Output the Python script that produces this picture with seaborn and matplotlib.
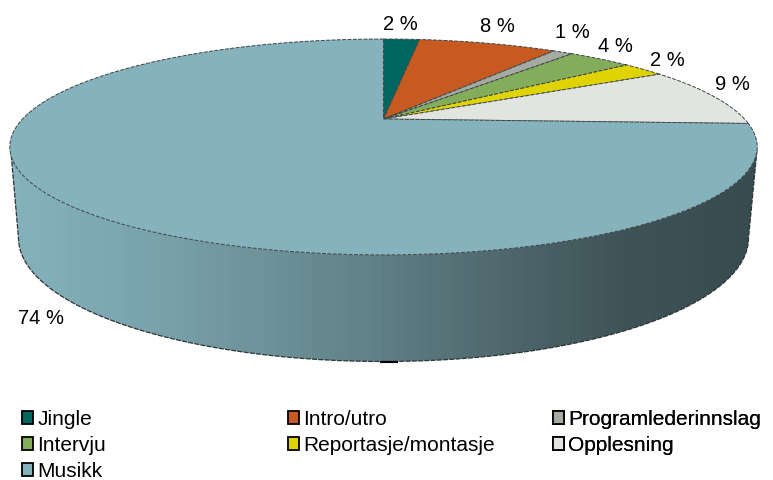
import numpy as np
import matplotlib
matplotlib.use("Agg")
import matplotlib.pyplot as plt
import matplotlib.transforms as mtransforms
from matplotlib.patches import Patch, PathPatch
from matplotlib.path import Path
import seaborn as sns

categories = ["Jingle", "Intro/utro", "Programlederinnslag", "Intervju",
              "Reportasje/montasje", "Opplesning", "Musikk"]
shares = [2.0, 7.7, 1.1, 3.5, 2.3, 9.1, 74.3]
colors = ["#00665f", "#c75a20", "#a6aba2", "#84ad5b", "#e0d400", "#e2e4df", "#85b2bc"]

sns.set_theme(style="white")
plt.rcParams["font.family"] = ["Liberation Sans", "DejaVu Sans"]
FS = 14.5
LEG_FS = 15

fig = plt.figure(figsize=(7.73, 4.80), dpi=100)
ax = fig.add_axes([0, 0, 1, 1])


class Perspective(mtransforms.Transform):
    """Tilts the flat unit pie towards the viewer, giving pixel coordinates."""
    input_dims = output_dims = 2
    has_inverse = False
    K, A, B, X0, Y0 = 0.259, 361.0, 100.7, 383.5, 119.0

    def transform_non_affine(self, pts):
        pts = np.asarray(pts, float)
        w = 1 + self.K * pts[:, 1]
        return np.column_stack([self.X0 + self.A * pts[:, 0] / w,
                                self.Y0 - self.B * pts[:, 1] / w])

    def transform_path_non_affine(self, path):
        t = np.linspace(0, 1, 16)
        dense = [bez(t) for bez, _ in path.iter_bezier()]
        return Path(self.transform_non_affine(np.vstack(dense)))


persp = Perspective()
edge = dict(edgecolor="#3c4446", linewidth=0.7, linestyle=(0, (4, 1.5)))
wedges, _ = ax.pie(shares, colors=colors, startangle=90, counterclock=False,
                   radius=1, wedgeprops=edge)
ax.set_aspect("auto")
ax.set_xlim(0, 773)
ax.set_ylim(480, 0)
ax.axis("off")
for w in wedges:
    w.set_transform(persp + ax.transData)
    w.set_zorder(3)

# side wall of the cylinder
th_top = np.linspace(np.pi * 1.02, np.pi * 1.98, 200)
rim = persp.transform_non_affine(np.column_stack([np.cos(th_top), np.sin(th_top)]))
rim = rim[rim[:, 0] > 10]
th_low = np.linspace(np.pi * 2.0, np.pi, 200)
low = np.column_stack([383.5 + 365 * np.cos(th_low), 238 - 123.5 * np.sin(th_low)])
top_arc = np.array(sorted(rim.tolist()))
outline = np.vstack([[[10.5, 147]], top_arc, [[757, 150]], low, [[10.5, 147]]])
wall_path = Path(outline)

cmap = sns.blend_palette(["#86b2bc", "#7ba5ae", "#6e939a", "#5f7f85", "#4e676c", "#3e5358", "#384b4f"],
                         n_colors=256, as_cmap=True)
img = ax.imshow(np.linspace(0, 1, 64)[None, :], cmap=cmap, aspect="auto",
                extent=(8, 757, 365, 140), zorder=1, interpolation="nearest")
clip = PathPatch(wall_path, transform=ax.transData, facecolor="none", edgecolor="none")
ax.add_patch(clip)
img.set_clip_path(clip)
ax.add_patch(PathPatch(Path(np.vstack([[[757, 150]], low, [[10.5, 147]]])), facecolor="none",
                       edgecolor="#2c3436", linewidth=0.9, linestyle=(0, (4, 1)), zorder=2))
ax.plot([380, 398], [362.3, 362.3], color="black", linewidth=1.5, zorder=2, solid_capstyle="butt")
ax.set_xlim(0, 773)
ax.set_ylim(480, 0)

# percent labels
label_x = [400, 497, 572, 615, 667, 732, 41]
label_y = [24, 27, 33, 46, 60, 85, 318]
for v, x, y in zip(shares, label_x, label_y):
    ax.text(x, y, f"{round(v)} %", ha="center", va="center", fontsize=FS, color="black", zorder=5)

# legend, three columns
columns = [([0, 3, 6], 22), ([1, 4], 288), ([2, 5], 553)]
for idx, x in columns:
    handles = [Patch(facecolor=colors[i], edgecolor="black", linewidth=1.3) for i in idx]
    labels = [categories[i] for i in idx]
    leg = ax.legend(handles, labels, loc="upper left", bbox_to_anchor=(x, 410),
                    bbox_transform=ax.transData, frameon=False, borderpad=0, borderaxespad=0,
                    fontsize=LEG_FS, handlelength=0.53, handleheight=0.53, handletextpad=0.2,
                    labelspacing=0.33, labelcolor="black")
    ax.add_artist(leg)

fig.savefig("out.png", dpi=100, facecolor="white")
